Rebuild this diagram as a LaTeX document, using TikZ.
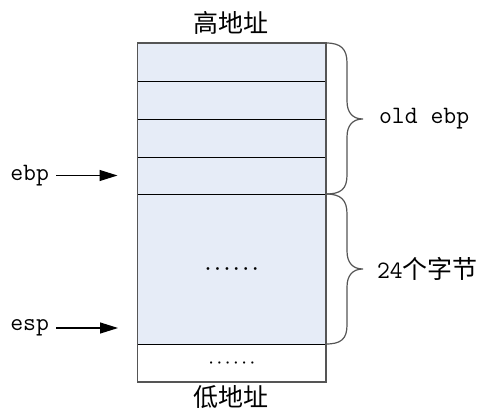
\documentclass[tikz,border=0pt]{standalone}
\usepackage{fontspec}
\newfontfamily\cjk{Noto Sans CJK SC}
\usepackage{tikz}
\usetikzlibrary{arrows.meta}

\definecolor{cellblue}{RGB}{230,236,247}
\definecolor{edgegray}{RGB}{85,85,85}

\newcommand{\stackdots}{{\boldmath$\cdots\cdots$}}

\begin{document}
\begin{tikzpicture}[x=0.5pt,y=0.5pt,yscale=-1,xscale=1,
  cell/.style={draw=black,fill=cellblue,line width=0.5pt,minimum width=94.25pt,inner sep=0pt,outer sep=0pt},
  lbl/.style={font=\fontsize{12.5}{15}\selectfont\ttfamily},
  hanzi/.style={font=\fontsize{12.5}{15}\selectfont\cjk},
  bigdots/.style={font=\fontsize{9.5}{11}\selectfont},
  smalldots/.style={font=\fontsize{7.5}{9}\selectfont},
  ptr/.style={line width=0.6pt,-{Triangle[length=9pt,width=5.5pt]}},
  brace/.style={draw=edgegray,line width=0.6pt}]
\useasboundingbox (0,0) rectangle (481,412);

%Stack cells, top to bottom
\node [cell,minimum height=19pt] (cellA) at (231.75,62) {};
\node [cell,minimum height=19pt] (cellB) at (231.75,100) {};
\node [cell,minimum height=19pt] (cellC) at (231.75,138) {};
\node [cell,minimum height=18.5pt] (cellD) at (231.75,175.5) {};
\node [cell,bigdots,minimum height=75pt] (cellE) at (231.75,269) {\stackdots};
\node [cell,smalldots,fill=white,minimum height=19pt] (cellF) at (231.75,363) {\stackdots};
%Outer frame
\draw [edgegray,line width=0.6pt] (cellA.north west) rectangle (cellF.south east);

% Text Node
\node [hanzi] (high) at (231,23) {高地址};
% Text Node
\node [hanzi] (low) at (231,397) {低地址};

%Curve Lines: brace over the four upper cells
\draw [brace] (326,43) .. controls (341,43) and (347,49) .. (347,63) -- (347,101) .. controls (347,113) and (353,119) .. (363,119) .. controls (353,119) and (347,125) .. (347,137) -- (347,175) .. controls (347,189) and (341,194) .. (326,194) ;
%Curve Lines: brace over the frame cell
\draw [brace] (326,194) .. controls (341,194) and (347,200) .. (347,214) -- (347,251) .. controls (347,263) and (353,269) .. (363,269) .. controls (353,269) and (347,275) .. (347,287) -- (347,325) .. controls (347,339) and (341,344) .. (326,344) ;

% Text Node
\node [lbl,anchor=west] (oldebp) at (372,119) {old ebp};
% Text Node
\node [lbl,anchor=west] (frame) at (370,269) {24{\cjk 个字节}};

% Text Node
\node [lbl,anchor=east] (ebp) at (56,175.5) {ebp};
% Text Node
\node [lbl,anchor=east] (esp) at (56,328) {esp};
\coordinate (espin) at (118,328);

%Pointer arrows
\draw [ptr] (ebp.east) -- ([xshift=-10pt]cellD.west);
\draw [ptr] (esp.east) -- (espin);

\end{tikzpicture}
\end{document}
